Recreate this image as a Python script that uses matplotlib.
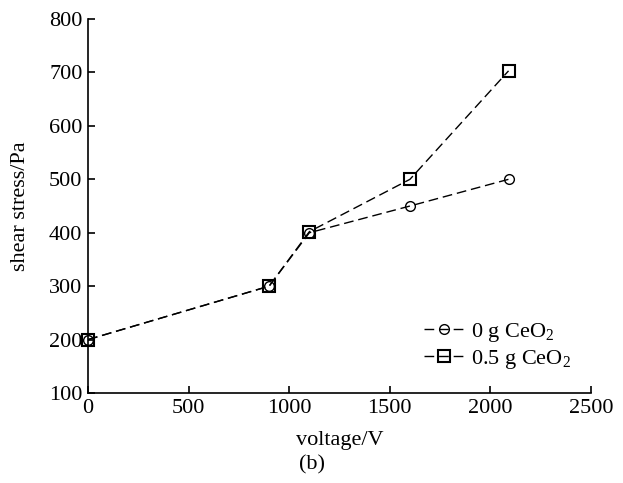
import numpy as np
import matplotlib.pyplot as plt

plt.rcParams['font.family'] = ['Liberation Serif', 'DejaVu Serif']
plt.rcParams['mathtext.fontset'] = 'custom'
plt.rcParams['mathtext.rm'] = 'Liberation Serif'

# data
volt_0g = [0, 900, 1100, 1600, 2090]
stress_0g = [200, 300, 400, 450, 500]
volt_05g = [0, 900, 1100, 1600, 2090]
stress_05g = [200, 300, 402, 500, 703]
xticks = [0, 500, 1000, 1500, 2000, 2500]
yticks = [100, 200, 300, 400, 500, 600, 700, 800]

fig = plt.figure(figsize=(6.23, 4.83), dpi=100)
ax = fig.add_axes([0.1413, 0.1863, 0.8074, 0.7743])

dash = (0, (7, 3.5))
ax.plot(volt_0g, stress_0g, color='black', lw=1.0, linestyle=dash,
        marker='o', markersize=7, markerfacecolor='none', markeredgewidth=1.0,
        label=r'0 g CeO$_2$', clip_on=False)
ax.plot(volt_05g, stress_05g, color='black', lw=1.0, linestyle=dash,
        marker='s', markersize=8, markerfacecolor='none', markeredgewidth=1.5,
        label=r'0.5 g CeO$_2$', clip_on=False)

ax.set_xlim(0, 2500)
ax.set_ylim(100, 800)
ax.set_xticks(xticks)
ax.set_yticks(yticks)
ax.tick_params(direction='in', length=5, width=1.2, labelsize=16, pad=4)
for s in ['top', 'right']:
    ax.spines[s].set_visible(False)
for s in ['left', 'bottom']:
    ax.spines[s].set_linewidth(1.2)

ax.set_xlabel('voltage/V', fontsize=16, labelpad=10)
ax.set_ylabel('shear stress/Pa', fontsize=16, labelpad=14)
fig.text(0.5, 1 - 465 / 483, '(b)', fontsize=16, ha='center', va='center')

ax.legend(loc='lower right', bbox_to_anchor=(1.0, 0.005), frameon=False,
          fontsize=16, handlelength=1.8, handletextpad=0.3, labelspacing=0.2)

fig.savefig('out.png', dpi=100)
